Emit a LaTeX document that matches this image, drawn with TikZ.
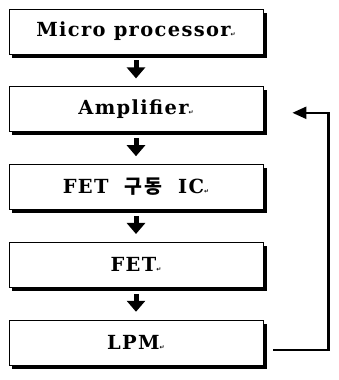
\documentclass[tikz,border=0pt]{standalone}
\usepackage{fontspec}
\usepackage{tikz}
\usetikzlibrary{positioning}
\usetikzlibrary{arrows.meta}
\usetikzlibrary{shadows}
\setmainfont{DejaVu Serif}
\newfontfamily\kofont{Noto Sans CJK KR}[LetterSpace=7]
\newfontfamily\retfont{DejaVu Sans}
\tikzset{
  stagebox/.style={draw=black, line width=0.8pt, fill=white, minimum width=254bp, minimum height=45bp,
    drop shadow={shadow xshift=3.5bp, shadow yshift=-3.5bp, fill=black, opacity=1}},
  flowarrow/.style={line width=5bp, -{Triangle[width=18bp, length=11bp]}},
  fbline/.style={line width=2.2bp, -{Triangle[width=12bp, length=14bp]}}
}
\newcommand\stagetext[1]{{\bfseries\fontsize{19.5}{22}\selectfont\addfontfeatures{LetterSpace=7}#1{\retfont\fontsize{6}{6}\selectfont ↵}}}

\begin{document}
\begin{tikzpicture}[x=1bp, y=1bp, node distance=32bp]
\useasboundingbox (0,0) rectangle (339,-380);
\node[stagebox] (mp) at (136,-31.5) {\stagetext{Micro processor}};
\node[stagebox, below=of mp] (amp) {\stagetext{Amplifier}};
\node[stagebox, below=of amp] (drv) {\stagetext{FET\ \ {\kofont 구동}\ \ IC}};
\node[stagebox, below=of drv] (fet) {\stagetext{FET}};
\node[stagebox, below=of fet] (lpm) {\stagetext{LPM}};
\draw[flowarrow] ([yshift=-6bp]mp.south) -- ([yshift=8bp]amp.north);
\draw[flowarrow] ([yshift=-6bp]amp.south) -- ([yshift=8bp]drv.north);
\draw[flowarrow] ([yshift=-6bp]drv.south) -- ([yshift=8bp]fet.north);
\draw[flowarrow] ([yshift=-6bp]fet.south) -- ([yshift=8bp]lpm.north);
\coordinate (fbcorner) at ([xshift=65bp, yshift=-3.5bp]amp.east);
\draw[fbline] ([xshift=10bp, yshift=-7bp]lpm.east) -| (fbcorner) -- ([xshift=29bp, yshift=-3.5bp]amp.east);
\end{tikzpicture}
\end{document}
